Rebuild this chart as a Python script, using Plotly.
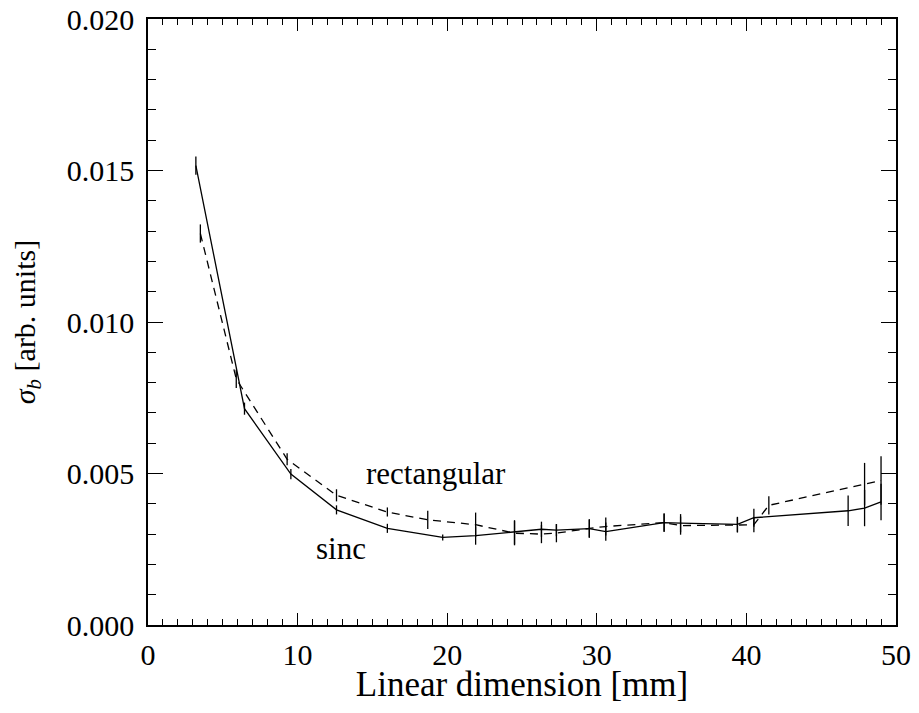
import plotly.graph_objects as go

# sinc window (solid line)
sinc_x = [3.2, 6.45, 9.55, 12.6, 16.0, 19.7, 21.9, 24.5, 26.3, 27.3, 29.5, 30.6,
          34.5, 35.6, 39.4, 40.5, 46.8, 47.9, 49.0]
sinc_y = [0.01516, 0.00714, 0.00498, 0.00380, 0.00319, 0.00289, 0.00295, 0.00306,
          0.00316, 0.00313, 0.00318, 0.00308, 0.00338, 0.00336, 0.00332, 0.00354,
          0.00377, 0.00386, 0.00406]
sinc_err = [0.0003, 0.0002, 0.00017, 0.00015, 0.00015, 0.0001, 0.0003, 0.0004,
            0.00025, 0.0002, 0.0003, 0.0003, 0.0003, 0.0003, 0.00025, 0.0003,
            0.0005, 0.0006, 0.0006]

# rectangular window (dashed line)
rect_x = [3.5, 5.9, 9.3, 12.6, 16.0, 18.7, 21.9, 24.5, 26.3, 27.3, 29.5, 30.6,
          34.5, 35.6, 39.4, 40.5, 41.5, 47.9, 49.0]
rect_y = [0.01292, 0.00812, 0.00547, 0.00428, 0.00373, 0.00347, 0.00331, 0.00303,
          0.00300, 0.00303, 0.00319, 0.00325, 0.00338, 0.00328, 0.00330, 0.00331,
          0.00395, 0.00465, 0.00477]
rect_err = [0.0003, 0.0003, 0.0002, 0.0002, 0.00015, 0.0003, 0.0004, 0.0004,
            0.0003, 0.0003, 0.0003, 0.0003, 0.0003, 0.0003, 0.00025, 0.00025,
            0.0003, 0.0007, 0.0008]

y_ticks = [0.0, 0.005, 0.010, 0.015, 0.020]

font_family = "Liberation Serif"

fig = go.Figure()
fig.add_trace(go.Scatter(x=sinc_x, y=sinc_y, mode='lines', name='sinc',
                         line=dict(color='black', width=1.3),
                         error_y=dict(type='data', array=sinc_err, width=0,
                                      thickness=1.3, color='black')))
fig.add_trace(go.Scatter(x=rect_x, y=rect_y, mode='lines', name='rectangular',
                         line=dict(color='black', width=1.3, dash='8px,6px'),
                         error_y=dict(type='data', array=rect_err, width=0,
                                      thickness=1.3, color='black')))

fig.add_annotation(x=19.25, y=0.00500, text='rectangular', showarrow=False,
                   font=dict(size=31, color='black', family=font_family))
fig.add_annotation(x=12.87, y=0.00253, text='sinc', showarrow=False,
                   font=dict(size=31, color='black', family=font_family))

axis_common = dict(showgrid=False, zeroline=False, showline=True, linecolor='black',
                   linewidth=1.5, mirror='allticks', ticks='inside', automargin=False,
                   tickcolor='black', tickwidth=1.2, ticklabeloverflow='allow',
                   tickfont=dict(size=30, color='black', family=font_family))

fig.update_xaxes(range=[0, 50], dtick=10, ticklen=12, ticklabelstandoff=2,
                 minor=dict(dtick=1, ticks='inside', ticklen=6, tickcolor='black', tickwidth=1),
                 title=dict(text='Linear dimension [mm]', standoff=5,
                            font=dict(size=35, color='black', family=font_family)),
                 **axis_common)
fig.update_yaxes(range=[0, 0.02], tickvals=y_ticks, tickformat='.3f', ticklen=15,
                 ticklabelstandoff=6,
                 minor=dict(dtick=0.001, ticks='inside', ticklen=8, tickcolor='black', tickwidth=1),
                 title=dict(text='<i>σ</i><sub><i>b</i></sub> [arb. units]', standoff=46,
                            font=dict(size=30, color='black', family=font_family)),
                 **axis_common)

fig.update_layout(width=903, height=696, showlegend=False,
                  plot_bgcolor='white', paper_bgcolor='white',
                  margin=dict(l=140, r=15, t=11, b=79, autoexpand=False),
                  font=dict(family=font_family, color='black'))

fig.write_html("out.html")
